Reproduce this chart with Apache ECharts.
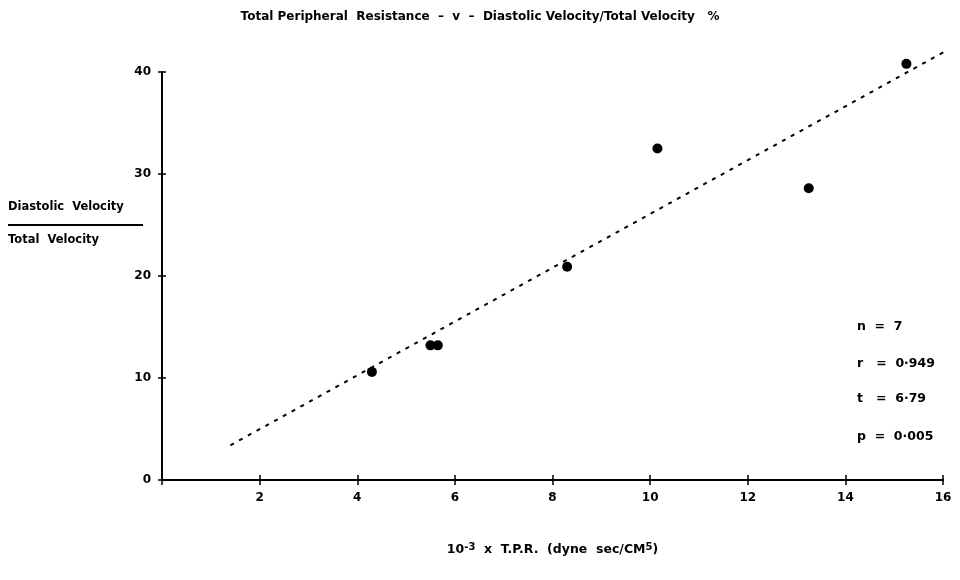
<!DOCTYPE html>
<html>
<head>
<meta charset="utf-8">
<script src="https://cdn.jsdelivr.net/npm/echarts@6/dist/echarts.min.js"></script>
<style>
  html, body { margin: 0; padding: 0; background: #fff; }
  #main { width: 960px; height: 580px; }
</style>
</head>
<body>
<div id="main"></div>
<script>
// T.P.R. (x 10^-3) against diastolic / total velocity %
var tprValues = [4.3, 5.5, 5.65, 8.3, 10.15, 13.25, 15.25];
var velRatio = [10.6, 13.2, 13.2, 20.9, 32.5, 28.6, 40.8];
// regression line end points
var fitX = [1.4, 16.3];
var fitY = [3.4, 42.7];
var xTicks = [0, 2, 4, 6, 8, 10, 12, 14, 16];
var yTicks = [0, 10, 20, 30, 40];
var statLines = ['n  =  7', 'r   =  0·949', 't   =  6·79', 'p  =  0·005'];

var pts = tprValues.map(function (v, i) { return [v, velRatio[i]]; });
var fit = fitX.map(function (v, i) { return [v, fitY[i]]; });

var font = '"DejaVu Sans", Verdana, sans-serif';
var dom = document.getElementById('main');
var myChart = echarts.init(dom);
var option = {
    backgroundColor: '#fff',
    animation: false,
    textStyle: { fontFamily: font },
    title: {
        text: 'Total Peripheral  Resistance  –  v  –  Diastolic Velocity/Total Velocity   %',
        left: 'center',
        top: 6,
        textStyle: { fontSize: 12, fontWeight: 'bold', color: '#000', fontFamily: font }
    },
    grid: { left: 162, right: 17, top: 72, bottom: 100 },
    xAxis: [
        {
            type: 'value',
            min: 0,
            max: 16,
            interval: 2,
            name: '{n|10}{s|-3}{n|  x  T.P.R.  (dyne  sec/CM}{s|5}{n|)}',
            nameLocation: 'middle',
            nameGap: 62,
            nameTextStyle: {
                rich: {
                    n: { fontSize: 12.5, fontWeight: 'bold', color: '#000', fontFamily: font },
                    s: { fontSize: 10, fontWeight: 'bold', color: '#000', fontFamily: font, verticalAlign: 'top', padding: [0, 0, 6, 0] }
                }
            },
            axisLine: { lineStyle: { color: '#000', width: 2 } },
            axisTick: { length: 5, lineStyle: { color: '#000', width: 1.5 } },
            axisLabel: {
                margin: 12,
                fontSize: 12,
                fontWeight: 'bold',
                color: '#000',
                formatter: function (v) { return v === 0 ? '' : v; }
            },
            splitLine: { show: false }
        },
        {
            type: 'value',
            position: 'bottom',
            min: 0,
            max: 16,
            interval: 2,
            axisLine: { show: false },
            axisTick: { inside: true, length: 5, lineStyle: { color: '#000', width: 1.5 } },
            axisLabel: { show: false },
            splitLine: { show: false }
        }
    ],
    yAxis: [
        {
            type: 'value',
            min: 0,
            max: 40,
            interval: 10,
            axisLine: { show: true, lineStyle: { color: '#000', width: 2 } },
            axisTick: { show: true, length: 4, lineStyle: { color: '#000', width: 1.5 } },
            axisLabel: { margin: 11, fontSize: 12, fontWeight: 'bold', color: '#000' },
            splitLine: { show: false }
        },
        {
            type: 'value',
            position: 'left',
            min: 0,
            max: 40,
            interval: 10,
            axisLine: { show: false },
            axisTick: { show: true, inside: true, length: 4, lineStyle: { color: '#000', width: 1.5 } },
            axisLabel: { show: false },
            splitLine: { show: false }
        }
    ],
    graphic: [
        {
            type: 'text', left: 8, top: 201,
            style: { text: 'Diastolic  Velocity', fontSize: 11.5, fontWeight: 'bold', fill: '#000', fontFamily: font }
        },
        {
            type: 'rect', left: 8, top: 224,
            shape: { width: 135, height: 2 },
            style: { fill: '#000' }
        },
        {
            type: 'text', left: 8, top: 234,
            style: { text: 'Total  Velocity', fontSize: 11.5, fontWeight: 'bold', fill: '#000', fontFamily: font }
        }
    ].concat(statLines.map(function (s, i) {
        return {
            type: 'text', left: 857, top: [320, 357, 392, 430][i],
            style: { text: s, fontSize: 12.5, fontWeight: 'bold', fill: '#000', fontFamily: font }
        };
    })),
    series: [
        {
            type: 'line',
            data: fit,
            clip: false,
            symbol: 'none',
            silent: true,
            lineStyle: { color: '#000', width: 2, type: [4, 6] }
        },
        {
            type: 'scatter',
            data: pts,
            clip: false,
            symbol: 'circle',
            symbolSize: 10,
            itemStyle: { color: '#000', opacity: 1 }
        }
    ]
};
if (option && typeof option === "object") {
    myChart.setOption(option, true);
}
</script>
</body>
</html>
